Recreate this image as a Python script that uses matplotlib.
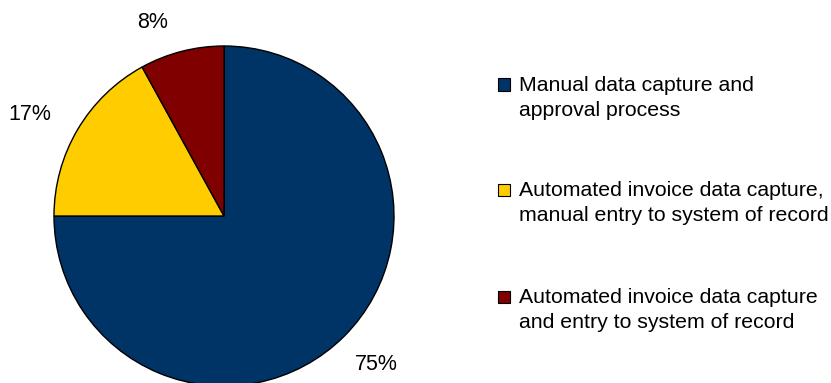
import matplotlib.pyplot as plt
from matplotlib.patches import Rectangle

plt.rcParams['font.family'] = ['Liberation Sans', 'DejaVu Sans']

# data
shares = [75, 17, 8]
labels = ["Manual data capture and\napproval process",
          "Automated invoice data capture,\nmanual entry to system of record",
          "Automated invoice data capture\nand entry to system of record"]
colors = ["#003366", "#FFCC00", "#800000"]

W, H = 831, 383
fig = plt.figure(figsize=(W / 100, H / 100), dpi=100)

# pie: center (224, 216) px from top, radius 170 px
cx, cy, r = 224, 216, 170
ax = fig.add_axes([(cx - r) / W, (H - cy - r) / H, 2 * r / W, 2 * r / H])
wedges, texts, autotexts = ax.pie(
    shares, colors=colors, startangle=90, counterclock=False,
    autopct=lambda p: f"{p:.0f}%", pctdistance=1.25,
    wedgeprops=dict(edgecolor="black", linewidth=1.0),
    textprops=dict(fontsize=15.5, color="black"))
ax.set_xlim(-1, 1)
ax.set_ylim(-1, 1)
ax.set_aspect("equal")
ax.axis("off")
for w in wedges:
    w.set_clip_on(False)

# label placement (Excel best fit)
label_pos = [(0.894, -0.871), (-1.141, 0.60), (-0.418, 1.138)]
for t, pos in zip(autotexts, label_pos):
    t.set_position(pos)
    t.set_clip_on(False)

# legend drawn by hand: square aligned with the first line
x_sq, sq = 498, 12
x_txt = 519
first_base = [91, 196, 303]
line_gap = 25
for lab, col, yb in zip(labels, colors, first_base):
    fig.patches.append(Rectangle(((x_sq) / W, (H - yb + 0.5) / H), sq / W, sq / H,
                                 transform=fig.transFigure, facecolor=col,
                                 edgecolor="black", linewidth=0.8))
    for i, line in enumerate(lab.split("\n")):
        fig.text(x_txt / W, (H - yb - i * line_gap) / H, line,
                 fontsize=15.3, va="baseline", ha="left")

fig.savefig("out.png", dpi=100)
